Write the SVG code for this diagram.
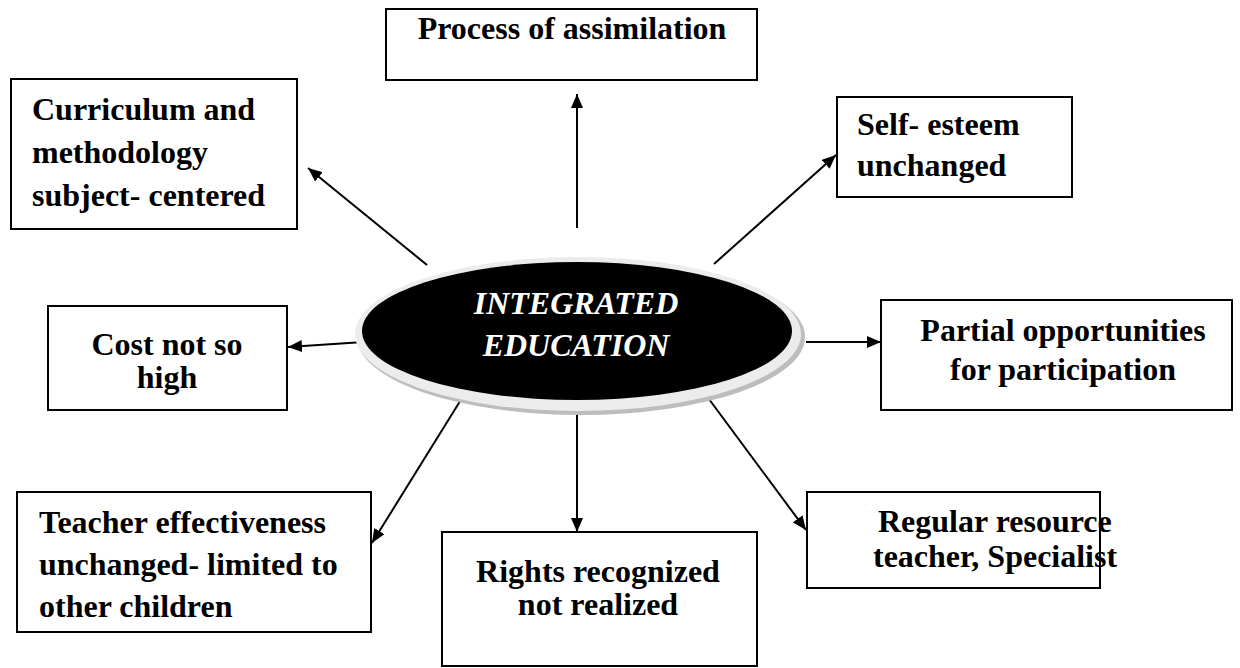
<svg xmlns="http://www.w3.org/2000/svg" width="1240" height="668" viewBox="0 0 1240 668">
  <defs>
    <marker id="arrow" viewBox="0 0 14 12" refX="14" refY="6" markerWidth="14" markerHeight="12" markerUnits="userSpaceOnUse" orient="auto">
      <path d="M0,0 L14,6 L0,12 Z" fill="#000"/>
    </marker>
  </defs>
  <style>
    .box { fill: #fff; stroke: #000; stroke-width: 2; }
    .lbl { font-weight: bold; font-size: 32px; fill: #000; }
    .mid { text-anchor: middle; }
    .hub { font-weight: bold; font-style: italic; font-size: 32px; fill: #fff; text-anchor: middle; }
    .link { stroke: #000; stroke-width: 2; fill: none; marker-end: url(#arrow); }
  </style>
  <rect width="1240" height="668" fill="#fff"/>

  <!-- connectors from the hub -->
  <g id="connectors">
    <line class="link" x1="577" y1="228" x2="577" y2="94"/>
    <line class="link" x1="427" y1="265" x2="308" y2="168"/>
    <line class="link" x1="714" y1="264" x2="836" y2="155"/>
    <line class="link" x1="364" y1="342" x2="288" y2="347"/>
    <line class="link" x1="806" y1="342" x2="881" y2="342"/>
    <line class="link" x1="467" y1="390" x2="372" y2="543"/>
    <line class="link" x1="577" y1="400" x2="577" y2="532"/>
    <line class="link" x1="703" y1="391" x2="806" y2="530"/>
  </g>

  <g font-family="Liberation Serif, Times New Roman, serif">
  <!-- central hub -->
  <g id="hub">
    <ellipse cx="581" cy="337" rx="224" ry="78" fill="#bdbdbd"/>
    <ellipse cx="578" cy="334" rx="223" ry="77" fill="#ececec"/>
    <ellipse cx="577" cy="331" rx="215" ry="69" fill="#000"/>
    <text class="hub" x="576" y="314">INTEGRATED</text>
    <text class="hub" x="576" y="356">EDUCATION</text>
  </g>

  <g id="node-assimilation">
    <rect class="box" x="386" y="9" width="371" height="71"/>
    <text class="lbl mid" x="572" y="39">Process of assimilation</text>
  </g>

  <g id="node-curriculum">
    <rect class="box" x="11" y="79" width="286" height="150"/>
    <text class="lbl" x="32" y="120">Curriculum and</text>
    <text class="lbl" x="32" y="163">methodology</text>
    <text class="lbl" x="32" y="206">subject- centered</text>
  </g>

  <g id="node-selfesteem">
    <rect class="box" x="837" y="97" width="235" height="100"/>
    <text class="lbl" x="857" y="135">Self- esteem</text>
    <text class="lbl" x="857" y="176">unchanged</text>
  </g>

  <g id="node-cost">
    <rect class="box" x="48" y="306" width="239" height="104"/>
    <text class="lbl mid" x="167" y="355">Cost not so</text>
    <text class="lbl mid" x="167" y="388">high</text>
  </g>

  <g id="node-participation">
    <rect class="box" x="881" y="300" width="351" height="110"/>
    <text class="lbl mid" x="1063" y="341">Partial opportunities</text>
    <text class="lbl mid" x="1063" y="380">for participation</text>
  </g>

  <g id="node-teacher">
    <rect class="box" x="17" y="492" width="354" height="140"/>
    <text class="lbl" x="39" y="533">Teacher effectiveness</text>
    <text class="lbl" x="39" y="575">unchanged- limited to</text>
    <text class="lbl" x="39" y="617">other children</text>
  </g>

  <g id="node-rights">
    <rect class="box" x="442" y="532" width="315" height="134"/>
    <text class="lbl mid" x="598" y="582">Rights recognized</text>
    <text class="lbl mid" x="598" y="615">not realized</text>
  </g>

  <g id="node-resource">
    <rect class="box" x="807" y="492" width="293" height="96"/>
    <text class="lbl" x="878" y="532">Regular resource</text>
    <text class="lbl" x="873" y="567">teacher, Specialist</text>
  </g>
  </g>
</svg>
